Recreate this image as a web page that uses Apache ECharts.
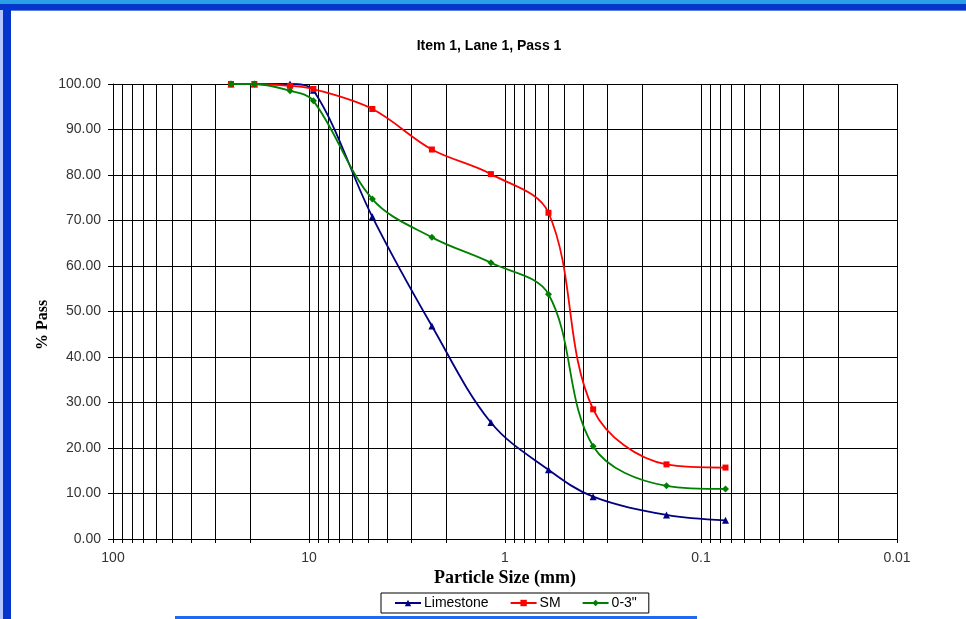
<!DOCTYPE html>
<html>
<head>
<meta charset="utf-8">
<script src="https://cdn.jsdelivr.net/npm/echarts@6/dist/echarts.min.js"></script>
<style>
html,body{margin:0;padding:0;background:#fff;}
#c{width:966px;height:619px;}
</style>
</head>
<body>
<div id="c"></div>
<script>
var sizes = [25, 19, 12.5, 9.5, 4.75, 2.36, 1.18, 0.6, 0.355, 0.15, 0.075];
var limestone = [100, 100, 100, 98.6, 70.8, 46.8, 25.6, 15.2, 9.3, 5.3, 4.1];
var sm = [100, 100, 99.6, 98.9, 94.5, 85.6, 80.2, 71.7, 28.5, 16.4, 15.7];
var gravel = [100, 100, 98.5, 96.3, 74.7, 66.3, 60.7, 53.8, 20.4, 11.7, 11.0];
var decadeTicks = [100, 10, 1, 0.1, 0.01];
var minorTicks = [];
[10, 1, 0.1, 0.01].forEach(function (d) {
  for (var k = 2; k <= 9; k++) minorTicks.push(+(k * d).toPrecision(3));
});
var allTicks = decadeTicks.concat(minorTicks).sort(function (a, b) { return a - b; });

function pairs(ys) { return sizes.map(function (x, i) { return [x, ys[i]]; }); }

var chart = echarts.init(document.getElementById('c'));
chart.setOption({
  animation: false,
  backgroundColor: '#ffffff',
  textStyle: { fontFamily: 'Liberation Sans, Arial, sans-serif' },
  grid: { left: 113, right: 69, top: 84, bottom: 80, containLabel: false },
  legend: {
    left: 381, top: 593,
    padding: [3, 12, 3, 13],
    itemGap: 21, itemWidth: 26, itemHeight: 8,
    borderColor: '#000', borderWidth: 1,
    textStyle: { fontSize: 14, color: '#000', fontFamily: 'Liberation Sans, Arial, sans-serif', padding: [0, 0, 0, -2] },
    data: ['Limestone', 'SM', '0-3"']
  },
  xAxis: {
    type: 'log', logBase: 10, inverse: true, min: 0.01, max: 100,
    axisLine: { show: true, lineStyle: { color: '#000', width: 1 } },
    axisTick: { show: true, length: 4, lineStyle: { color: '#000' }, customValues: allTicks },
    axisLabel: {
      customValues: decadeTicks, fontSize: 14, color: '#333', margin: 12,
      formatter: function (v) { return String(+v.toPrecision(3)); }
    },
    splitLine: { show: true, lineStyle: { color: '#000', width: 1 } }
  },
  yAxis: {
    type: 'value', min: 0, max: 100, interval: 10,
    axisLine: { show: true, lineStyle: { color: '#000' } },
    axisTick: { show: true, length: 5, lineStyle: { color: '#000' } },
    axisLabel: { fontSize: 14, color: '#333', margin: 12, formatter: function (v) { return v.toFixed(2); } },
    splitLine: { show: true, lineStyle: { color: '#000', width: 1 } }
  },
  graphic: [
    { type: 'rect', shape: { x: 0, y: 0, width: 966, height: 4 }, style: { fill: '#2b9fe3' }, z: 100 },
    { type: 'rect', shape: { x: 0, y: 4, width: 966, height: 6 }, style: { fill: '#0536cc' }, z: 100 },
    { type: 'rect', shape: { x: 0, y: 10, width: 966, height: 1 }, style: { fill: '#5a7fe0' }, z: 100 },
    { type: 'rect', shape: { x: 0, y: 10, width: 3, height: 609 }, style: { fill: '#b4c6ff' }, z: 100 },
    { type: 'rect', shape: { x: 3, y: 10, width: 8, height: 609 }, style: { fill: '#0536cc' }, z: 100 },
    { type: 'rect', shape: { x: 175, y: 616, width: 522, height: 3 }, style: { fill: '#1d6cf0' }, z: 100 },
    { type: 'text', x: 489, y: 46, style: { text: 'Item 1, Lane 1, Pass 1', font: 'bold 14px Liberation Sans, Arial, sans-serif', fill: '#000', align: 'center', verticalAlign: 'middle' } },
    { type: 'text', x: 505, y: 578, style: { text: 'Particle Size (mm)', font: 'bold 18px Liberation Serif, Times New Roman, serif', fill: '#000', align: 'center', verticalAlign: 'middle' } },
    { type: 'text', x: 43, y: 325, rotation: Math.PI / 2, style: { text: '% Pass', font: 'bold 16px Liberation Serif, Times New Roman, serif', fill: '#000', align: 'center', verticalAlign: 'middle' } }
  ],
  series: [
    { name: 'Limestone', type: 'line', data: pairs(limestone), smooth: 0.35,
      symbol: 'triangle', symbolSize: 7, itemStyle: { color: '#000080' }, lineStyle: { color: '#000080', width: 1.8 } },
    { name: 'SM', type: 'line', data: pairs(sm), smooth: 0.35,
      symbol: 'rect', symbolSize: 6, itemStyle: { color: '#ff0000' }, lineStyle: { color: '#ff0000', width: 1.8 } },
    { name: '0-3"', type: 'line', data: pairs(gravel), smooth: 0.35,
      symbol: 'diamond', symbolSize: 7, itemStyle: { color: '#008000' }, lineStyle: { color: '#008000', width: 1.8 } }
  ]
});
</script>
</body>
</html>
